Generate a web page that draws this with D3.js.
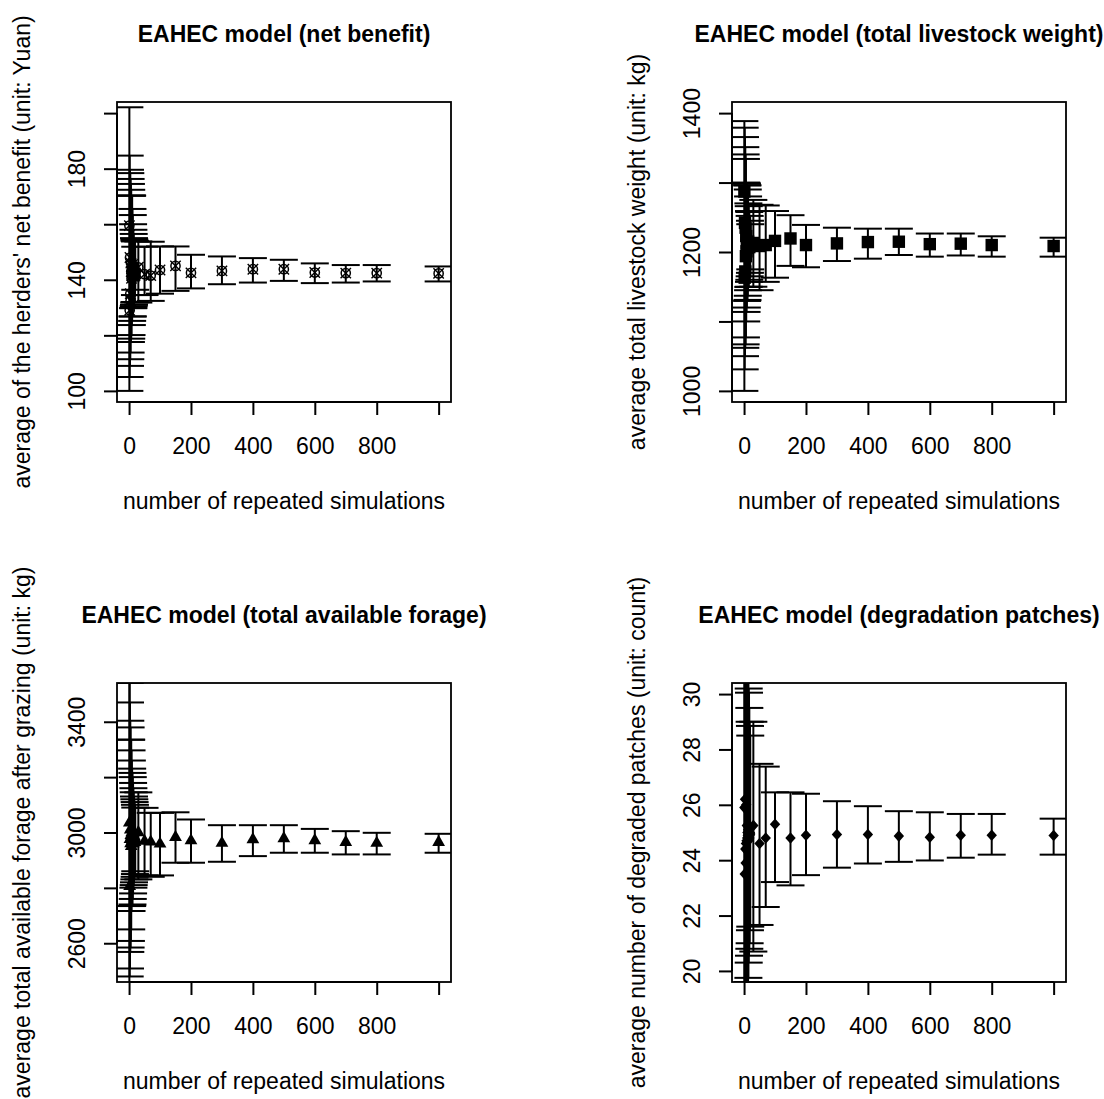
<!DOCTYPE html>
<html>
<head>
<meta charset="utf-8">
<script src="https://cdn.jsdelivr.net/npm/d3@7"></script>
<style>
  html, body { margin: 0; padding: 0; background: #fff; }
  svg { display: block; }
  text { font-family: "Liberation Sans", Arial, sans-serif; fill: #000; }
</style>
</head>
<body>
<div id="chart"></div>
<script>
// Number of repeated simulations used for each estimate
const runs = [1, 2, 3, 4, 5, 6, 7, 8, 9, 10, 11, 12, 13, 14, 15, 16, 17, 18, 19, 20,
              30, 50, 70, 100, 150, 200, 300, 400, 500, 600, 700, 800, 1000];

// Herders' net benefit (Yuan): mean and interval bounds
const benefitMean = [159.5, 129.0, 148.0, 135.0, 132.5, 146.0, 143.0, 140.5, 141.5, 144.0,
                     145.5, 143.0, 142.0, 144.5, 142.5, 141.0, 143.5, 142.0, 141.5, 142.5,
                     144.5, 142.0, 141.5, 143.5, 145.0, 142.5, 143.2, 143.8, 143.8, 142.6, 142.4, 142.4, 142.3];
const benefitLow  = [100.0, 105.0, 109.0, 111.4, 113.8, 117.6, 118.8, 120.1, 123.7, 125.2,
                     126.8, 126.8, 129.8, 129.8, 130.5, 131.0, 131.8, 132.0, 134.5, 136.4,
                     131.8, 134.5, 132.4, 135.0, 136.0, 136.9, 138.4, 139.0, 139.6, 138.8, 139.0, 139.4, 139.4];
const benefitHigh = [202.1, 184.7, 179.6, 178.4, 176.3, 174.5, 172.4, 170.3, 170.3, 170.3,
                     165.5, 163.3, 160.0, 158.0, 156.5, 155.0, 154.5, 154.0, 153.8, 151.9,
                     153.8, 151.9, 153.7, 152.0, 152.0, 149.0, 148.4, 147.8, 147.2, 145.9, 145.3, 145.3, 144.8];

// Total livestock weight (kg)
const weightMean = [1287, 1163, 1242, 1172, 1235, 1194, 1223, 1201, 1213, 1208,
                    1212, 1206, 1215, 1210, 1209, 1211, 1207, 1212, 1210, 1209,
                    1213, 1208.6, 1210, 1216, 1219.5, 1210, 1212.4, 1214.3, 1214.8, 1211.3, 1212, 1210, 1208.6];
const weightLow  = [1000, 1031, 1050, 1062, 1067, 1077, 1100, 1113.7, 1120, 1129.5,
                    1131, 1137, 1145, 1149.6, 1150, 1157, 1160, 1165, 1170, 1175,
                    1150, 1145, 1157, 1163, 1180, 1178, 1187, 1190.4, 1195.7, 1193.3, 1195, 1193.3, 1193.3];
const weightHigh = [1388.5, 1379, 1365.5, 1351, 1340.5, 1334, 1300, 1298.6, 1298.6, 1296,
                    1296, 1290, 1280, 1270, 1266, 1259, 1257.6, 1252, 1245, 1240,
                    1275, 1268, 1267, 1259, 1253, 1239, 1235, 1233.6, 1233.6, 1226.6, 1226.6, 1222.6, 1220.6];

// Total available forage after grazing (kg)
const forageMean = [3035, 2806, 2975, 3010, 2960, 2990, 2950, 2985, 3000, 2970,
                    2965, 2980, 2972, 2960, 2968, 2975, 2985, 2970, 2965, 2975,
                    3000, 2969, 2966, 2959, 2983, 2971, 2961.5, 2974.8, 2978.4, 2971.2, 2965, 2961.5, 2965];
const forageLow  = [2400, 2480, 2508.8, 2568.6, 2584.5, 2608.3, 2650, 2716.4, 2734.4, 2734.4,
                    2740, 2760, 2780, 2800.7, 2810, 2820, 2830.7, 2840, 2850, 2860,
                    2830.7, 2845, 2840, 2845, 2890.8, 2890.8, 2894.3, 2914.7, 2926.9, 2926.9, 2920.8, 2920.8, 2926.9];
const forageHigh = [3600, 3540, 3469.7, 3403.7, 3379.6, 3335.2, 3335.2, 3296.7, 3260, 3230.7,
                    3215.2, 3200, 3179, 3160, 3145.3, 3130, 3120, 3110, 3100, 3090,
                    3145, 3089, 3071, 3071, 3073, 3047, 3026.4, 3026.4, 3026.4, 3013, 3004.8, 2998.9, 2995.3];

// Degraded patches (count)
const patchMean = [25.9, 23.5, 26.2, 24.4, 23.9, 24.6, 26.0, 24.7, 25.25, 24.8,
                   25.0, 24.9, 25.1, 24.7, 24.9, 25.0, 24.8, 24.9, 25.0, 24.95,
                   25.25, 24.6, 24.8, 25.3, 24.8, 24.9, 24.93, 24.93, 24.87, 24.83, 24.9, 24.9, 24.89];
const patchLow  = [8, 12, 14, 16, 17, 17.5, 18, 18.5, 19, 19.2,
                   19.4, 19.5, 19.6, 19.75, 20.3, 20.55, 20.8, 21.0, 21.47, 21.6,
                   20.7, 21.66, 22.31, 23.21, 23.09, 23.46, 23.73, 23.88, 23.94, 23.99, 24.09, 24.2, 24.2];
const patchHigh = [42, 38, 36, 34, 33, 32.5, 32, 31.5, 31, 30.9,
                   30.8, 30.6, 30.5, 30.42, 30.2, 30.05, 29.5, 29.0, 28.85, 28.5,
                   29.0, 27.48, 27.38, 26.45, 26.45, 26.4, 26.13, 25.95, 25.77, 25.73, 25.67, 25.67, 25.5];

// Axis ticks and which ticks carry a label
const xTicks = [0, 200, 400, 600, 800, 1000];
const xTickLabels = [0, 200, 400, 600, 800];
const benefitTicks = [100, 120, 140, 160, 180, 200];
const benefitTickLabels = [100, 140, 180];
const weightTicks = [1000, 1100, 1200, 1300, 1400];
const weightTickLabels = [1000, 1200, 1400];
const forageTicks = [2600, 2800, 3000, 3200, 3400];
const forageTickLabels = [2600, 3000, 3400];
const patchTicks = [20, 22, 24, 26, 28, 30];
const patchTickLabels = [20, 22, 24, 26, 28, 30];

const W = 1104, H = 1099;
const FONT = 23;

const panels = [
  { title: "EAHEC model (net benefit)",
    ylab: "average of the herders' net benefit (unit: Yuan)",
    mean: benefitMean, low: benefitLow, high: benefitHigh,
    yDomain: [96, 204], yTicks: benefitTicks, yLabels: benefitTickLabels,
    marker: "circleX", box: { l: 117, r: 451, t: 102, b: 402 } },
  { title: "EAHEC model (total livestock weight)",
    ylab: "average total livestock weight (unit: kg)",
    mean: weightMean, low: weightLow, high: weightHigh,
    yDomain: [984, 1416], yTicks: weightTicks, yLabels: weightTickLabels,
    marker: "square", box: { l: 732, r: 1066, t: 102, b: 402 } },
  { title: "EAHEC model (total available forage)",
    ylab: "average total available forage after grazing (unit: kg)",
    mean: forageMean, low: forageLow, high: forageHigh,
    yDomain: [2460, 3540], yTicks: forageTicks, yLabels: forageTickLabels,
    marker: "triangle", box: { l: 117, r: 451, t: 683, b: 982 } },
  { title: "EAHEC model (degradation patches)",
    ylab: "average number of degraded patches (unit: count)",
    mean: patchMean, low: patchLow, high: patchHigh,
    yDomain: [19.6, 30.4], yTicks: patchTicks, yLabels: patchTickLabels,
    marker: "diamond", box: { l: 732, r: 1066, t: 683, b: 982 } }
];

const svg = d3.select("#chart").append("svg")
  .attr("width", W).attr("height", H)
  .attr("viewBox", `0 0 ${W} ${H}`);
svg.append("rect").attr("width", W).attr("height", H).attr("fill", "#fff");

const defs = svg.append("defs");
const LW = 2;        // line width of bars and axes
const CAP = 14;      // half width of the interval caps

function drawMarker(g, type, cx, cy) {
  if (type === "circleX") {
    g.append("circle").attr("cx", cx).attr("cy", cy).attr("r", 4.6)
      .attr("fill", "none").attr("stroke", "#000").attr("stroke-width", 1.5);
    const d = 5.2;
    g.append("path")
      .attr("d", `M${cx - d},${cy - d}L${cx + d},${cy + d}M${cx - d},${cy + d}L${cx + d},${cy - d}`)
      .attr("stroke", "#000").attr("stroke-width", 1.4).attr("fill", "none");
  } else if (type === "square") {
    g.append("rect").attr("x", cx - 6.2).attr("y", cy - 6.2)
      .attr("width", 12.4).attr("height", 12.4).attr("fill", "#000");
  } else if (type === "triangle") {
    g.append("path")
      .attr("d", `M${cx},${cy - 7.4}L${cx + 6.4},${cy + 3.7}L${cx - 6.4},${cy + 3.7}Z`)
      .attr("fill", "#000");
  } else if (type === "diamond") {
    g.append("path")
      .attr("d", `M${cx},${cy - 5.8}L${cx + 5.2},${cy}L${cx},${cy + 5.8}L${cx - 5.2},${cy}Z`)
      .attr("fill", "#000");
  }
}

panels.forEach((p, i) => {
  const b = p.box;
  const x = d3.scaleLinear().domain([-38.96, 1039.96]).range([b.l, b.r]);
  const y = d3.scaleLinear().domain(p.yDomain).range([b.b, b.t]);
  const g = svg.append("g");

  const clipId = `plot-area-${i}`;
  defs.append("clipPath").attr("id", clipId)
    .append("rect").attr("x", b.l).attr("y", b.t)
    .attr("width", b.r - b.l).attr("height", b.b - b.t);

  const plot = g.append("g").attr("clip-path", `url(#${clipId})`);

  // points
  const pts = plot.append("g");
  runs.forEach((n, k) => drawMarker(pts, p.marker, x(n), y(p.mean[k])));

  // interval bars with caps
  const bars = plot.append("g").attr("stroke", "#000").attr("stroke-width", LW).attr("fill", "none");
  runs.forEach((n, k) => {
    const cx = x(n), y0 = y(p.low[k]), y1 = y(p.high[k]);
    bars.append("line").attr("x1", cx).attr("x2", cx).attr("y1", y0).attr("y2", y1);
    bars.append("line").attr("x1", cx - CAP).attr("x2", cx + CAP).attr("y1", y0).attr("y2", y0);
    bars.append("line").attr("x1", cx - CAP).attr("x2", cx + CAP).attr("y1", y1).attr("y2", y1);
  });

  // frame
  g.append("rect").attr("x", b.l).attr("y", b.t)
    .attr("width", b.r - b.l).attr("height", b.b - b.t)
    .attr("fill", "none").attr("stroke", "#000").attr("stroke-width", 1.8);

  // x axis
  const xa = g.append("g").attr("transform", `translate(0,${b.b})`)
    .call(d3.axisBottom(x).tickValues(xTicks).tickSize(13).tickSizeOuter(0)
      .tickFormat(v => xTickLabels.includes(v) ? d3.format("d")(v) : ""));
  xa.select(".domain").attr("d", `M${x(xTicks[0])},0H${x(xTicks[xTicks.length - 1])}`)
    .attr("stroke-width", LW);
  xa.selectAll(".tick line").attr("stroke-width", LW);
  xa.selectAll(".tick text").attr("y", 52).attr("dy", null)
    .attr("font-size", FONT).attr("font-family", null).attr("fill", "#000");

  // y axis
  const ya = g.append("g").attr("transform", `translate(${b.l},0)`)
    .call(d3.axisLeft(y).tickValues(p.yTicks).tickSize(13).tickSizeOuter(0)
      .tickFormat(v => p.yLabels.includes(v) ? d3.format("d")(v) : ""));
  ya.select(".domain").attr("d", `M0,${y(p.yTicks[0])}V${y(p.yTicks[p.yTicks.length - 1])}`)
    .attr("stroke-width", LW);
  ya.selectAll(".tick line").attr("stroke-width", LW);
  ya.selectAll(".tick text")
    .attr("x", null).attr("dy", null)
    .attr("transform", "translate(-32,0) rotate(-90)")
    .attr("text-anchor", "middle")
    .attr("font-size", FONT).attr("font-family", null).attr("fill", "#000");

  const cx = (b.l + b.r) / 2, cy = (b.t + b.b) / 2;

  // title
  g.append("text").attr("x", cx).attr("y", b.t - 60)
    .attr("text-anchor", "middle").attr("font-weight", "bold")
    .attr("font-size", FONT).text(p.title);

  // axis titles
  g.append("text").attr("x", cx).attr("y", b.b + 107)
    .attr("text-anchor", "middle").attr("font-size", FONT)
    .text("number of repeated simulations");
  g.append("text")
    .attr("transform", `translate(${b.l - 87},${cy}) rotate(-90)`)
    .attr("text-anchor", "middle").attr("font-size", FONT)
    .text(p.ylab);
});
</script>
</body>
</html>
